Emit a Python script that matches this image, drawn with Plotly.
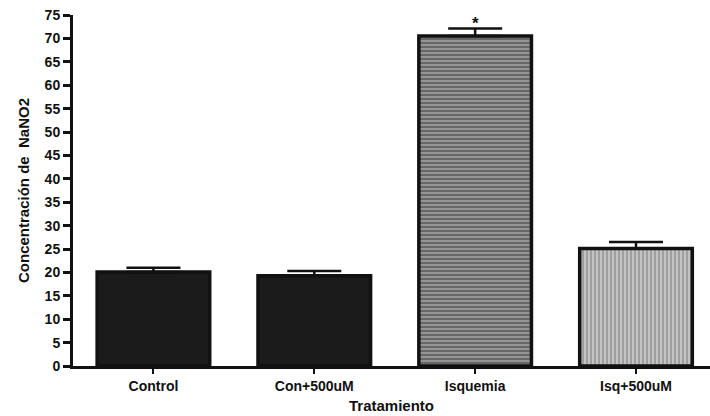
import plotly.graph_objects as go

categories = ["Control", "Con+500uM", "Isquemia", "Isq+500uM"]
means = [20.1, 19.3, 70.5, 25.1]
errors = [0.9, 1.0, 1.6, 1.4]
fill_colors = ["#1b1b1b", "#1b1b1b", "#676767", "#c4c4c4"]
pattern_shapes = ["", "", "-", "|"]
pattern_colors = ["#1b1b1b", "#1b1b1b", "#7a7a7a", "#dedede"]
y_ticks = list(range(0, 80, 5))

font = dict(family="Liberation Sans, Arial, sans-serif", color="#111111", weight="bold")

fig = go.Figure()
fig.add_trace(go.Bar(
    x=categories, y=means, width=0.7,
    marker=dict(
        color=fill_colors,
        line=dict(color="#111111", width=3.5),
        pattern=dict(shape=pattern_shapes, fgcolor=pattern_colors, size=4, solidity=0.3),
    ),
    error_y=dict(type="data", array=errors, arrayminus=[0]*len(errors), symmetric=False,
                 color="#111111", thickness=2.5, width=27),
    showlegend=False,
))

fig.add_annotation(x="Isquemia", y=means[2] + errors[2], text="*", showarrow=False,
                   yanchor="bottom", yshift=-6, font=dict(size=17, **font))

fig.update_layout(
    width=710, height=416,
    margin=dict(l=73, r=0, t=15, b=50),
    plot_bgcolor="white", paper_bgcolor="white",
    font=font,
    xaxis=dict(
        range=[-0.5, 3.46], showline=True, linecolor="#111111", linewidth=3,
        ticks="outside", ticklen=5, tickwidth=2, tickcolor="#111111",
        tickfont=dict(size=14, **font),
        title=dict(text="Tratamiento", font=dict(size=15, **font), standoff=8),
        showgrid=False, zeroline=False,
    ),
    yaxis=dict(
        range=[0, 75], tickvals=y_ticks, showline=True, linecolor="#111111", linewidth=3,
        ticks="outside", ticklen=7, tickwidth=2.5, tickcolor="#111111",
        tickfont=dict(size=14, **font),
        title=dict(text="Concentración de  NaNO2", font=dict(size=15, **font), standoff=12),
        showgrid=False, zeroline=False,
    ),
)

fig.write_html("out.html")
